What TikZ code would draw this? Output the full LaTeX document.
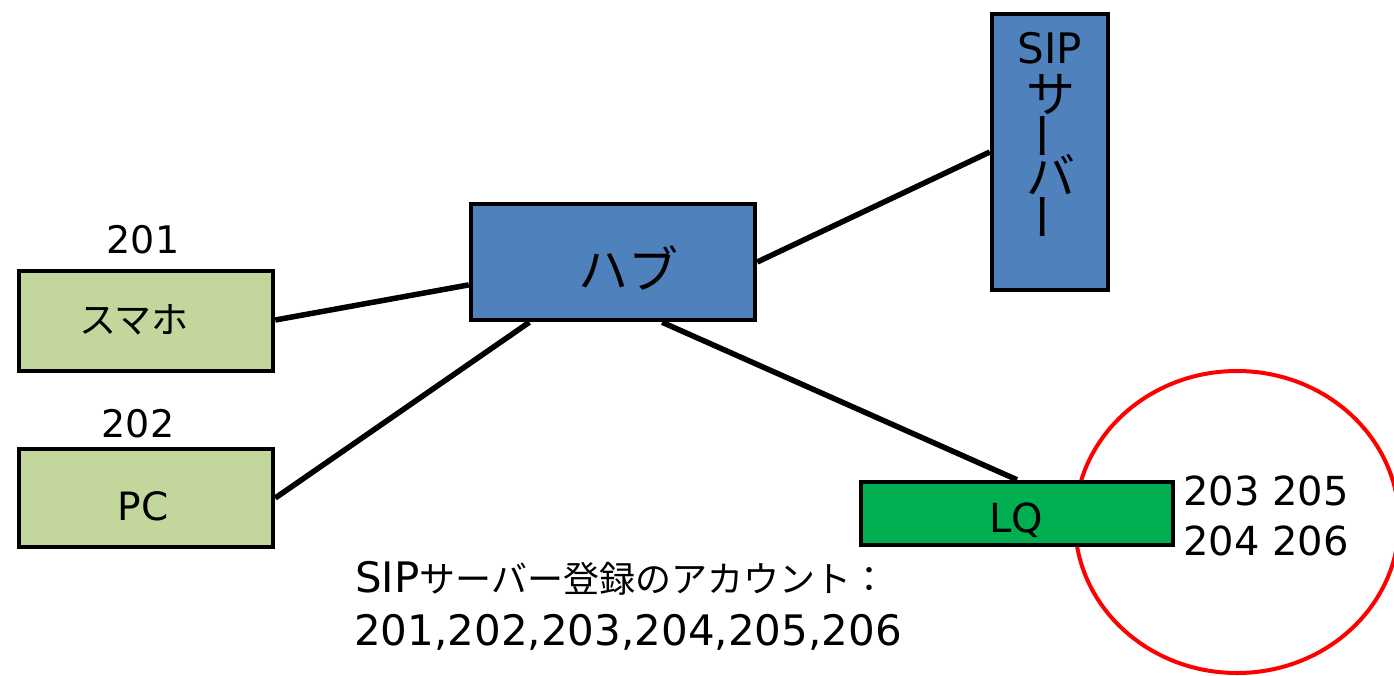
\documentclass[tikz,border=0pt]{standalone}
\usepackage{fontspec}
\setmainfont{DejaVu Sans}
\newfontfamily\jp{Noto Sans CJK JP}
\usetikzlibrary{calc}
\definecolor{lightgreen}{HTML}{C3D69B}
\definecolor{hubblue}{HTML}{4F81BD}
\definecolor{lqgreen}{HTML}{00B050}
\begin{document}
\begin{tikzpicture}[x=1pt,y=-1pt,
  box/.style={draw=black, line width=4.5pt, rectangle, inner sep=0pt},
  link/.style={draw=black, line width=5.5pt},
  lat/.style={inner sep=0pt, font=\fontsize{40}{48}\selectfont},
  jpt/.style={inner sep=0pt, font=\jp\fontsize{37}{44}\selectfont},
  jpbig/.style={inner sep=0pt, font=\jp\fontsize{49}{56}\selectfont}]
\fill[white] (0,0) rectangle (1394,675);
\useasboundingbox (0,0) rectangle (1394,675);
\begin{scope}
\clip (0,0) rectangle (1394,675);
\draw[red, line width=4pt] (1237,522) ellipse [x radius=162, y radius=151];
\end{scope}

% boxes
\node[box, fill=lightgreen, minimum width=254pt, minimum height=100pt] (phone) at (146,321) {};
\node[box, fill=lightgreen, minimum width=254pt, minimum height=98pt] (pc) at (146,498) {};
\node[box, fill=hubblue, minimum width=284pt, minimum height=116pt] (hub) at (613,262) {};
\node[box, fill=hubblue, minimum width=116pt, minimum height=276pt] (sip) at (1050,152) {};
\node[box, fill=lqgreen, minimum width=312pt, minimum height=63pt] (lq) at (1017,513.5) {};

% box texts
\node[jpt] (phonetxt) at (134,320) {スマホ};
\node[lat, anchor=base, font=\fontsize{39}{46}\selectfont] (pctxt) at (143,520) {PC};
\node[jpbig, font=\jp\fontsize{50}{56}\selectfont] (hubtxt) at (628,268) {ハブ};
\node[lat, anchor=base, font=\fontsize{40}{46}\selectfont] (lqtxt) at (1016,532) {LQ};
\node[lat, anchor=base, font=\fontsize{42}{48}\selectfont] (siptxt) at (1050,63) {SIP};
\node[jpbig] (sipsa) at (1051,95) {サ};
\node[jpbig, rotate=90] (sipbar1) at (1051,136) {ー};
\node[jpbig] (sipba) at (1051,175) {バ};
\node[jpbig, rotate=90] (sipbar2) at (1051,217) {ー};

% labels
\node[lat, anchor=base, font=\fontsize{38}{46}\selectfont] (n201) at (143,253) {201};
\node[lat, anchor=base, font=\fontsize{38}{46}\selectfont] (n202) at (138,437) {202};
\node[lat, anchor=base west] (lqa) at (1183,505) {203 205};
\node[lat, anchor=base west] (lqb) at (1183,555) {204 206};
\node[lat, anchor=base west, font=\fontsize{42}{48}\selectfont] (acc1) at (355,592) {SIP{\jp\fontsize{36}{44}\selectfont サーバー登録のアカウント：}};
\node[lat, anchor=base west, font=\fontsize{42}{48}\selectfont] (acc2) at (354,645) {201,202,203,204,205,206};

% connectors
\draw[link] (phone.east |- 0,320) -- ($(hub.north west)!0.69!(hub.south west)$);
\draw[link] (pc.east) -- ($(hub.south west)!0.21!(hub.south east)$);
\draw[link] ($(hub.south west)!0.67!(hub.south east)$) -- (lq.north);
\draw[link] (hub.east) -- (sip.west);
\end{tikzpicture}
\end{document}
